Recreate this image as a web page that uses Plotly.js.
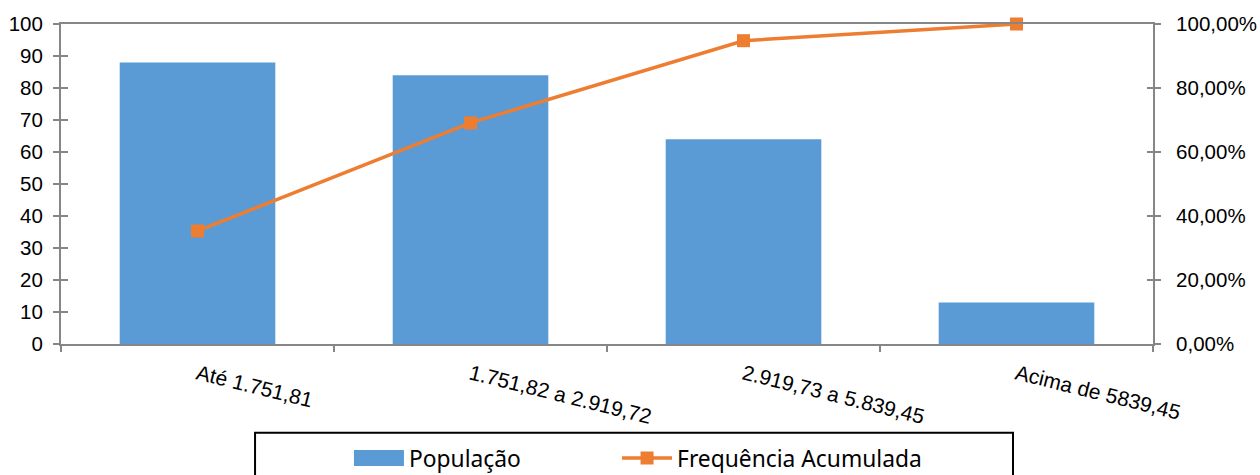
<!DOCTYPE html>
<html>
<head>
<meta charset="utf-8">
<script src="https://cdn.plot.ly/plotly-3.0.1.min.js"></script>
<style>html,body{margin:0;padding:0;background:#fff;}#chart{width:1260px;height:475px;}</style>
</head>
<body>
<div id="chart"></div>
<script>
var categories = ["Até 1.751,81", "1.751,82 a 2.919,72", "2.919,73 a 5.839,45", "Acima de 5839,45"];
var populacao = [88, 84, 64, 13];
var freqAcumulada = [0.3534, 0.6908, 0.9478, 1.0];
var leftTicks = [0, 10, 20, 30, 40, 50, 60, 70, 80, 90, 100];
var rightTicks = [0, 0.2, 0.4, 0.6, 0.8, 1.0];

var axisGray = '#868686';
var tickFont = {family: '"Liberation Sans", Arial, sans-serif', size: 20.5, color: '#000'};
var xTickFont = {family: '"Liberation Sans", Arial, sans-serif', size: 21, color: '#000'};
var legendFont = {family: '"Noto Sans", sans-serif', size: 22.8, color: '#000'};

var traces = [
  {
    type: 'bar', name: 'População', x: categories, y: populacao,
    marker: {color: '#5B9BD5'}, width: 0.57, yaxis: 'y', xaxis: 'x', legend: 'legend'
  },
  {
    type: 'scatter', mode: 'lines+markers', name: 'Frequência Acumulada',
    x: categories, y: freqAcumulada, yaxis: 'y2', xaxis: 'x', legend: 'legend2',
    line: {color: '#ED7D31', width: 3.5},
    marker: {color: '#ED7D31', symbol: 'square', size: 13},
    cliponaxis: false
  }
];

var layout = {
  width: 1260, height: 475,
  margin: {l: 61, r: 107, t: 24, b: 131, autoexpand: false},
  paper_bgcolor: '#fff', plot_bgcolor: '#fff',
  separators: ',.',
  showlegend: true,
  xaxis: {
    type: 'category', showgrid: false, zeroline: false, automargin: false,
    showline: true, linecolor: axisGray, linewidth: 2, mirror: true,
    ticks: 'outside', tickson: 'boundaries', ticklen: 6, tickcolor: axisGray, tickwidth: 1.5,
    tickangle: 14, tickfont: xTickFont, ticklabelstandoff: 8
  },
  yaxis: {
    range: [0, 100], tickvals: leftTicks, showgrid: false, zeroline: false, automargin: false,
    showline: true, linecolor: axisGray, linewidth: 2,
    ticks: 'outside', ticklen: 6, tickcolor: axisGray, tickwidth: 1.5,
    tickfont: tickFont, ticklabelstandoff: 6
  },
  yaxis2: {
    overlaying: 'y', side: 'right', range: [0, 1], tickvals: rightTicks, tickformat: '.2%',
    showgrid: false, zeroline: false, automargin: false,
    showline: true, linecolor: axisGray, linewidth: 2,
    ticks: 'outside', ticklen: 6, tickcolor: axisGray, tickwidth: 1.5,
    tickfont: tickFont, ticklabelstandoff: 11
  },
  yaxis3: {
    overlaying: 'y', side: 'left', range: [0, 100], tickvals: leftTicks, automargin: false,
    showgrid: false, zeroline: false, showline: false, showticklabels: false,
    ticks: 'inside', ticklen: 7, tickcolor: axisGray, tickwidth: 1.5
  },
  yaxis4: {
    overlaying: 'y', side: 'right', range: [0, 1], tickvals: rightTicks, automargin: false,
    showgrid: false, zeroline: false, showline: false, showticklabels: false,
    ticks: 'inside', ticklen: 6, tickcolor: axisGray, tickwidth: 1.5
  },
  legend: {
    orientation: 'h', x: 0.2637, xanchor: 'left', y: -0.29, yanchor: 'top',
    font: legendFont, bgcolor: 'rgba(0,0,0,0)', borderwidth: 0, itemwidth: 50
  },
  legend2: {
    orientation: 'h', x: 0.5092, xanchor: 'left', y: -0.29, yanchor: 'top',
    font: legendFont, bgcolor: 'rgba(0,0,0,0)', borderwidth: 0, itemwidth: 50
  },
  shapes: [
    {type: 'rect', xref: 'paper', yref: 'paper', x0: 0.1777, x1: 0.8718, y0: -0.277, y1: -0.5,
     line: {color: '#000', width: 2}, fillcolor: 'rgba(0,0,0,0)'}
  ]
};

traces.push({type: 'scatter', x: categories, y: [null, null, null, null], yaxis: 'y3', showlegend: false, hoverinfo: 'skip'});
traces.push({type: 'scatter', x: categories, y: [null, null, null, null], yaxis: 'y4', showlegend: false, hoverinfo: 'skip'});

Plotly.newPlot('chart', traces, layout, {displayModeBar: false, staticPlot: true}).then(function (gd) {
  // widen the bar legend swatch to a wide rectangle like the original
  var leg = gd.querySelector('.legend');
  if (leg) {
    var barPath = leg.querySelector('.traces .legendpoints path');
    if (barPath) barPath.setAttribute('d', 'M-25,-8h50v16h-50z');
  }
});
</script>
</body>
</html>
